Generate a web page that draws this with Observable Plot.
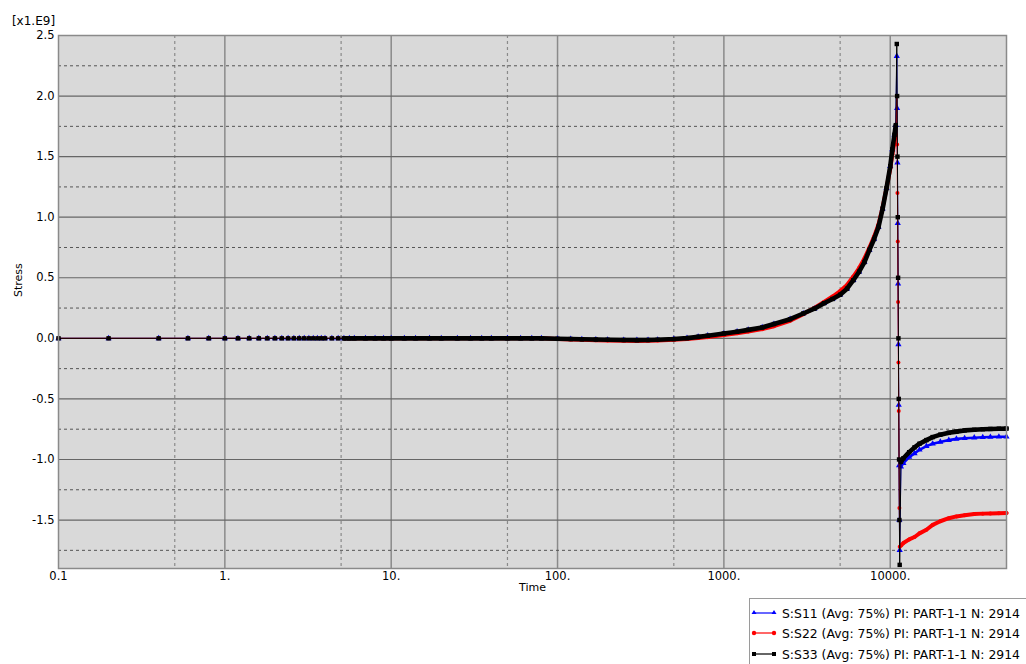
<!DOCTYPE html>
<html><head><meta charset="utf-8">
<script src="https://cdn.jsdelivr.net/npm/d3@7"></script>
<script src="https://cdn.jsdelivr.net/npm/@observablehq/plot@0.6"></script>
<style>
body{margin:0;background:#fff;font-family:"DejaVu Sans",Verdana,sans-serif;}
#wrap{position:relative;width:1026px;height:664px;overflow:hidden;}
#legend{position:absolute;left:749px;top:598px;width:300px;height:70px;border:1px solid #9a9a9a;background:#fff;box-sizing:border-box;}
.row{position:absolute;left:0;height:16px;display:flex;align-items:center;font-size:12.4px;white-space:nowrap;color:#000;}
.row svg{margin-left:1px;margin-right:5px;}
</style></head><body><div id="wrap"><div id="chart"></div><div id="legend"></div></div>
<script>
// Time values (s)
const time = [0.1,0.2,0.4,0.6,0.8,1,1.2,1.4,1.6,1.8,2,2.2,2.4,2.6,2.8,3,3.2,3.4,3.6,3.8,4,
  4.4,4.8,5.2,5.6,6,7,8,9,10,
  12,14,17,20,25,30,35,40,50,60,70,80,
  100,120,140,170,200,250,300,350,400,500,600,700,800,
  1000,1200,1400,1700,2000,2500,3000,3500,4000,4500,5000,5500,6000,6500,7000,7500,8000,8500,9000,9500,
  10000,10300,10600,10800,
  10950,11000,11050,11100,11150,11200,11250,11300,11350,11400,
  11600,12000,13000,14000,15000,16500,18000,20000,22500,25000,28000,32000,36000,40000,45000,50000];

// Stress values, in units of 1e9
const s33 = [0,0,0,0,0,0,0,0,0,0,0,0,0,0,0,0,0,0,0,0,0,
  0,0,0,0,0,0,0,0,0,
  0,0,0,0,0,0,0,0,0,0,0,0,
  -0.004,-0.006,-0.008,-0.01,-0.012,-0.014,-0.015,-0.014,-0.012,-0.006,0.002,0.012,0.022,
  0.04,0.055,0.07,0.09,0.118,0.158,0.205,0.245,0.29,0.325,0.36,0.41,0.48,0.55,0.63,0.73,0.82,0.92,1.07,1.24,
  1.42,1.56,1.68,1.76,
  2.43,2.0,1.5,1.0,0.5,0.0,-0.5,-1.0,-1.5,-1.87,
  -1.02,-0.99,-0.94,-0.90,-0.87,-0.84,-0.815,-0.795,-0.78,-0.77,-0.76,-0.755,-0.75,-0.748,-0.746,-0.745];

const s22 = [0,0,0,0,0,0,0,0,0,0,0,0,0,0,0,0,0,0,0,0,0,
  0,0,0,0,0,0,0,0,0,
  0,0,0,0,0,0,0,0,0,0,0,0,
  -0.006,-0.009,-0.012,-0.015,-0.017,-0.02,-0.021,-0.02,-0.018,-0.012,-0.005,0.003,0.01,
  0.028,0.042,0.056,0.076,0.1,0.145,0.2,0.25,0.3,0.345,0.39,0.44,0.51,0.58,0.66,0.75,0.84,0.94,1.08,1.24,
  1.4,1.52,1.62,1.68,
  2.0,1.6,1.2,0.8,0.3,-0.2,-0.6,-1.0,-1.4,-1.72,
  -1.71,-1.69,-1.66,-1.64,-1.61,-1.58,-1.54,-1.51,-1.485,-1.47,-1.46,-1.45,-1.447,-1.445,-1.443,-1.442];

const s11 = [0,0,0,0,0,0,0,0,0,0,0,0,0,0,0,0,0,0,0,0,0,
  0,0,0,0,0,0,0,0,0,
  0,0,0,0,0,0,0,0,0,0,0,0,
  -0.004,-0.006,-0.008,-0.01,-0.012,-0.014,-0.015,-0.014,-0.012,-0.006,0.002,0.012,0.022,
  0.04,0.055,0.07,0.09,0.118,0.158,0.205,0.245,0.29,0.325,0.36,0.41,0.48,0.55,0.63,0.73,0.82,0.92,1.07,1.24,
  1.42,1.56,1.68,1.76,
  2.33,1.9,1.45,0.95,0.45,-0.05,-0.55,-1.05,-1.5,-1.75,
  -1.06,-1.03,-0.98,-0.95,-0.92,-0.89,-0.87,-0.855,-0.84,-0.83,-0.825,-0.82,-0.817,-0.815,-0.813,-0.812];

const xMajor = [0.1,1,10,100,1000,10000];
const xMinor = [0.5,5,50,500,5000];
const yMajor = [2.5,2.0,1.5,1.0,0.5,0.0,-0.5,-1.0,-1.5];
const yMinor = [2.25,1.75,1.25,0.75,0.25,-0.25,-0.75,-1.25,-1.75];
const seriesNames = ["S:S11 (Avg: 75%) PI: PART-1-1 N: 2914","S:S22 (Avg: 75%) PI: PART-1-1 N: 2914","S:S33 (Avg: 75%) PI: PART-1-1 N: 2914"];
const seriesColors = ["#0000ff","#ff0000","#000000"];
const seriesKeys = ["S11","S22","S33"];
const seriesSymbols = ["triangle","circle","square"];

const data = time.map((t,i)=>({t, S11:s11[i], S22:s22[i], S33:s33[i]}));
const dense = d => d.t >= 5 && !(d.t > 10800 && d.t < 11600);

const xFmt = d => d === 0.1 ? "0.1" : d + ".";
const seriesMarks = [];
const widths = [2.6, 4.0, 4.6];
const radii = [2.3, 2.0, 2.5];
seriesKeys.forEach((k,i)=>{
  seriesMarks.push(Plot.line(data,{x:"t", y:k, stroke:seriesColors[i], strokeWidth:1}));
  seriesMarks.push(Plot.line(data,{x:"t", y:d=>dense(d)?d[k]:NaN, stroke:seriesColors[i], strokeWidth:widths[i]}));
  seriesMarks.push(Plot.dot(data,{x:"t", y:k, symbol:seriesSymbols[i], r:radii[i], fill:seriesColors[i], stroke:"none"}));
});

const chart = Plot.plot({
  width:1026, height:598,
  marginLeft:58, marginRight:20, marginTop:35, marginBottom:30,
  style:{fontFamily:"'DejaVu Sans', Verdana, sans-serif", fontSize:"11px", background:"#fff", color:"#000", overflow:"visible"},
  x:{type:"log", domain:[0.1,50000]},
  y:{domain:[-1.9,2.5]},
  marks:[
    Plot.frame({fill:"#d9d9d9", stroke:"none"}),
    Plot.ruleX(xMinor,{stroke:"#8a8a8a", strokeDasharray:"3,3", strokeWidth:1.2}),
    Plot.ruleX(xMajor.slice(1),{stroke:"#8a8a8a", strokeWidth:1.5}),
    Plot.ruleY(yMinor,{stroke:"#555", strokeDasharray:"3,3", strokeWidth:1}),
    Plot.ruleY(yMajor.slice(1),{stroke:"#666", strokeWidth:1.2}),
    ...seriesMarks,
    Plot.frame({stroke:"#8a8a8a", strokeWidth:1.5}),
    Plot.axisX({ticks:xMajor, tickFormat:xFmt, tickSize:0, tickPadding:3, label:null, fontSize:11.5}),
    Plot.axisY({ticks:yMajor, tickFormat:d=>d.toFixed(1), tickSize:0, tickPadding:4, label:null, fontSize:11.5}),
    Plot.text(["[x1.E9]"],{frameAnchor:"top-left", dx:-25, dy:-19, textAnchor:"middle", fontSize:12}),
    Plot.text(["Stress"],{frameAnchor:"left", dx:-40, dy:-5, rotate:-90, fontSize:11}),
    Plot.text(["Time"],{frameAnchor:"bottom", dy:22.5, fontSize:11})
  ]
});
document.getElementById("chart").appendChild(chart);

const legend = document.getElementById("legend");
const rowTops = [6, 26, 47];
seriesNames.forEach((name,i)=>{
  const row = document.createElement("div");
  row.className = "row";
  row.style.top = rowTops[i] + "px";
  const c = seriesColors[i];
  let marker;
  if (i === 0) marker = x => `<path d="M${x},5 L${x-2.5},9 L${x+2.5},9 Z" fill="${c}"/>`;
  else if (i === 1) marker = x => `<circle cx="${x}" cy="8" r="2.2" fill="${c}"/>`;
  else marker = x => `<rect x="${x-2}" y="6" width="4" height="4" fill="${c}"/>`;
  row.innerHTML = `<svg width="26" height="16"><line x1="2" y1="8" x2="24" y2="8" stroke="${c}" stroke-width="1.2"/>${marker(3)}${marker(23)}</svg><span>${name}</span>`;
  legend.appendChild(row);
});
</script>
</body></html>
